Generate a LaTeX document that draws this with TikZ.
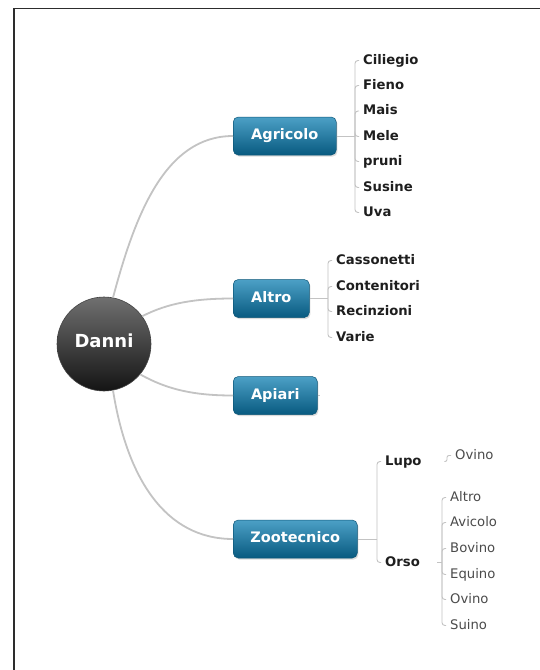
\documentclass[tikz,border=0pt]{standalone}
\usepackage{fontspec}
\setmainfont{DejaVu Sans}
\usetikzlibrary{shadows}

\definecolor{framecol}{RGB}{45,45,45}
\definecolor{branchcol}{RGB}{195,195,195}
\definecolor{bracketcol}{RGB}{195,195,195}
\definecolor{topictop}{RGB}{76,160,198}
\definecolor{topicmid}{RGB}{26,122,164}
\definecolor{topicbot}{RGB}{8,90,128}
\definecolor{topicedge}{RGB}{12,86,120}
\definecolor{hubtop}{RGB}{112,112,112}
\definecolor{hubbot}{RGB}{20,20,20}
\definecolor{boldtext}{RGB}{30,30,30}
\definecolor{plaintext}{RGB}{75,75,75}

\newcommand\hubsize{\fontsize{18pt}{21pt}\selectfont}
\newcommand\topicsize{\fontsize{14.5pt}{17pt}\selectfont}
\newcommand\leafsize{\fontsize{13.2pt}{15.5pt}\selectfont}

\tikzset{
  hub/.style={circle, minimum size=94pt, inner sep=0pt,
    top color=hubtop, bottom color=hubbot, draw=hubbot!80!white, line width=0.6pt,
    text=white, font=\hubsize\bfseries, text height=0.73em, text depth=0pt},
  topic/.style={rectangle, rounded corners=5pt, minimum height=38pt, inner sep=0pt,
    top color=topictop, middle color=topicmid, bottom color=topicbot,
    draw=topicedge, line width=0.5pt, anchor=west,
    drop shadow={opacity=0.28, shadow xshift=1.2pt, shadow yshift=-1.6pt},
    text=white, font=\topicsize\bfseries, text height=0.73em, text depth=0pt},
  leafbold/.style={anchor=west, inner xsep=4pt, inner ysep=1pt,
    text=boldtext, font=\leafsize\bfseries, text height=0.73em, text depth=0pt},
  leafplain/.style={anchor=west, inner xsep=4pt, inner ysep=1pt,
    text=plaintext, font=\leafsize, text height=0.73em, text depth=0pt},
  branch/.style={draw=branchcol, line width=1.8pt},
  bracket/.style={draw=bracketcol, line width=0.9pt, rounded corners=3pt},
}

\begin{document}
\begin{tikzpicture}[x=1pt,y=-1pt]
  \useasboundingbox (0,0) rectangle (540,670);
  \fill[white] (0,0) rectangle (540,670);

  % page frame: only the top and left edges lie inside the view
  \draw[framecol, line width=1.4pt] (14,670) -- (14,8.3) -- (540,8.3);

  % central topic
  \node[hub] (danni) at (104,344) {Danni};

  % main topics
  \node[topic, minimum width=103pt] (agr) at (233,136)   {Agricolo};
  \node[topic, minimum width=76pt]  (alt) at (233,298.5) {Altro};
  \node[topic, minimum width=84pt]  (api) at (233,395.5) {Apiari};
  \node[topic, minimum width=124pt] (zoo) at (233,539)   {Zootecnico};

  % branches from the centre
  \draw[branch] (danni.79)  .. controls (135,215) and (165,136) .. (agr.west);
  \draw[branch] (danni.36)  .. controls (168,303) and (195,298.5) .. (alt.west);
  \draw[branch] (danni.-40) .. controls (168,390) and (195,395.5) .. (api.west);
  \draw[branch] (danni.-79) .. controls (127,478) and (165,539) .. (zoo.west);

  % Agricolo subtopics
  \coordinate (agrj) at (355,136);
  \node[leafbold] (cil) at (359,60.5)  {Ciliegio};
  \node[leafbold] (fie) at (359,85.5)  {Fieno};
  \node[leafbold] (mai) at (359,111) {Mais};
  \node[leafbold] (mel) at (359,136.5) {Mele};
  \node[leafbold] (pru) at (359,161.5) {pruni};
  \node[leafbold] (sus) at (359,187.5) {Susine};
  \node[leafbold] (uva) at (359,212.5) {Uva};
  \draw[bracket] (agr.east) -- (agrj);
  \foreach \c in {cil,fie,mai,mel,pru,sus,uva}
    \draw[bracket] (agrj) |- (\c.west);

  % Altro subtopics
  \coordinate (altj) at (328,298.5);
  \node[leafbold] (cas) at (332,260.5) {Cassonetti};
  \node[leafbold] (con) at (332,286.5) {Contenitori};
  \node[leafbold] (rec) at (332,311.5) {Recinzioni};
  \node[leafbold] (var) at (332,337.5) {Varie};
  \draw[bracket] (alt.east) -- (altj);
  \foreach \c in {cas,con,rec,var}
    \draw[bracket] (altj) |- (\c.west);

  % Apiari has a short stub only
  \coordinate (apij) at (320,395.5);
  \draw[bracket] (api.east) -- (apij);

  % Zootecnico subtopics
  \coordinate (zooj) at (377,539);
  \node[leafbold, text width=55pt, align=left] (lupo) at (381,461.5) {Lupo};
  \node[leafbold, text width=48pt, align=left] (orso) at (381,562.5) {Orso};
  \draw[bracket] (zoo.east) -- (zooj);
  \draw[bracket] (zooj) |- (lupo.west);
  \draw[bracket] (zooj) |- (orso.west);

  % Lupo subtopic
  \coordinate (lupj) at (447,461.5);
  \node[leafplain] (lov) at (451,455.5) {Ovino};
  \draw[bracket, rounded corners=2pt] (lupo.east) -- (lupj) |- (lov.west);

  % Orso subtopics
  \coordinate (orsj) at (442,562.5);
  \node[leafplain] (oal) at (446,497.5) {Altro};
  \node[leafplain] (oav) at (446,522.5) {Avicolo};
  \node[leafplain] (obo) at (446,548.5) {Bovino};
  \node[leafplain] (oeq) at (446,574.5) {Equino};
  \node[leafplain] (oov) at (446,599.5) {Ovino};
  \node[leafplain] (osu) at (446,625.5) {Suino};
  \draw[bracket] (orso.east) -- (orsj);
  \foreach \c in {oal,oav,obo,oeq,oov,osu}
    \draw[bracket] (orsj) |- (\c.west);
\end{tikzpicture}
\end{document}
